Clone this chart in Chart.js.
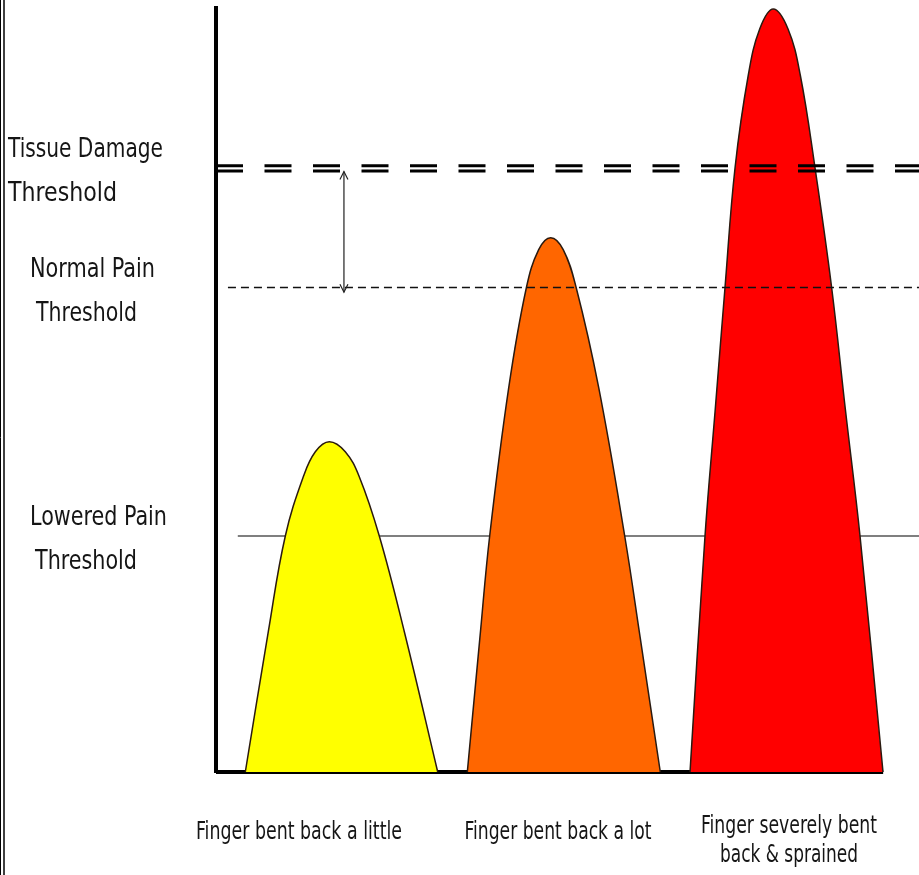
<!DOCTYPE html>
<html>
<head>
<meta charset="utf-8">
<script src="https://cdn.jsdelivr.net/npm/chart.js@4.4.0/dist/chart.umd.min.js"></script>
<style>
  html, body { margin: 0; padding: 0; background: #fff; }
  #wrap { width: 919px; height: 875px; position: relative; }
</style>
</head>
<body>
<div id="wrap"><canvas id="painChart"></canvas></div>
<script>
// categories shown under the peaks
const categories = ['Finger bent back a little', 'Finger bent back a lot', ['Finger severely bent', 'back & sprained']];

// peak outlines (x: position 0-100, y: pain signal 0-100)
const littleX = [4.17, 7.44, 9.86, 12.42, 14.13, 16.12, 18.39, 20.38, 23.23, 26.79, 31.54];
const littleY = [0, 18.36, 30.89, 38.65, 41.92, 43.23, 41.92, 38.65, 30.89, 18.36, 0];
const lotX = [35.75, 37.54, 38.93, 41.64, 44.14, 45.90, 47.61, 49.39, 51.25, 54.44, 58.14, 60.34, 63.20];
const lotY = [0, 17.58, 30.89, 50.30, 63.35, 68.37, 69.94, 68.37, 63.35, 50.30, 30.89, 17.58, 0];
const severeX = [67.43, 69.56, 71.02, 72.40, 73.83, 75.72, 77.34, 79.27, 81.37, 83.11, 85.21, 87.58, 89.52, 91.61, 94.88];
const severeY = [0, 30.89, 47.51, 63.35, 79.06, 91.23, 97.25, 99.87, 97.25, 91.23, 79.06, 63.35, 47.51, 30.89, 0];

// thresholds
const thresholdNames = [['Tissue Damage', 'Threshold'], ['Normal Pain', 'Threshold'], ['Lowered Pain', 'Threshold']];
const thresholdValues = [79.0, 63.4, 30.9];
const thresholdStart = [0, 1.7, 3.1];

// gap arrow between tissue damage and normal pain threshold
const arrowX = [18.2, 18.2];
const arrowY = [78.6, 62.8];

// baseline under the peaks
const baseX = [0, 94.9];
const baseY = [0, 0];

const FONT = "'Liberation Sans Narrow', 'DejaVu Sans Condensed', 'Liberation Sans', sans-serif";

function pts(xs, ys) {
    return xs.map((x, i) => ({ x: x, y: ys[i] }));
}

// label layout in pixels
const leftLabelX = [[8, 8], [30, 36], [30, 35]];
const leftLabelW = [[155, 109], [125, 101], [137, 102]];
const bottomLabels = [
    { cx: 299, y: [839], w: [206] },
    { cx: 558, y: [839], w: [187] },
    { cx: 789, y: [833, 862], w: [176, 138] }
];

const framePlugin = {
    id: 'frame',
    beforeDraw(chart) {
        const ctx = chart.ctx;
        ctx.save();
        ctx.fillStyle = '#fff';
        ctx.fillRect(0, 0, chart.width, chart.height);
        ctx.strokeStyle = '#000';
        ctx.lineWidth = 1;
        ctx.beginPath();
        ctx.moveTo(0.5, 0); ctx.lineTo(0.5, chart.height);
        ctx.stroke();
        ctx.lineWidth = 1.5;
        ctx.beginPath();
        ctx.moveTo(4, 0); ctx.lineTo(4, chart.height);
        ctx.stroke();
        ctx.restore();
    }
};

const doubleLinePlugin = {
    id: 'doubleLine',
    beforeDatasetDraw(chart, args) {
        if (!chart.data.datasets[args.index].doubleLine) return;
        chart.ctx.save();
        chart.ctx.translate(0, -2.6);
    },
    afterDatasetDraw(chart, args) {
        if (!chart.data.datasets[args.index].doubleLine) return;
        const ctx = chart.ctx;
        ctx.translate(0, 5.2);
        args.meta.dataset.draw(ctx, chart.chartArea);
        ctx.restore();
    }
};

const arrowPlugin = {
    id: 'arrowHeads',
    afterDatasetDraw(chart, args) {
        if (!chart.data.datasets[args.index].arrow) return;
        const p = args.meta.data;
        const ctx = chart.ctx;
        const head = (tip, from) => {
            const dx = tip.x - from.x, dy = tip.y - from.y;
            const len = Math.sqrt(dx * dx + dy * dy);
            const ux = dx / len, uy = dy / len;
            ctx.beginPath();
            ctx.moveTo(tip.x - ux * 8 - uy * 4, tip.y - uy * 8 + ux * 4);
            ctx.lineTo(tip.x, tip.y);
            ctx.lineTo(tip.x - ux * 8 + uy * 4, tip.y - uy * 8 - ux * 4);
            ctx.stroke();
        };
        ctx.save();
        ctx.strokeStyle = '#222';
        ctx.lineWidth = 1.2;
        head(p[0], p[1]);
        head(p[1], p[0]);
        ctx.restore();
    }
};

const labelPlugin = {
    id: 'labels',
    afterDraw(chart) {
        const ctx = chart.ctx;
        const yScale = chart.scales.y;
        ctx.save();
        ctx.fillStyle = '#151515';
        ctx.textBaseline = 'alphabetic';
        ctx.font = '27px ' + FONT;
        ctx.textAlign = 'left';
        thresholdNames.forEach((lines, i) => {
            const yp = yScale.getPixelForValue(thresholdValues[i]);
            ctx.fillText(lines[0], leftLabelX[i][0], yp - 11, leftLabelW[i][0]);
            ctx.fillText(lines[1], leftLabelX[i][1], yp + 33, leftLabelW[i][1]);
        });
        ctx.font = '24px ' + FONT;
        ctx.textAlign = 'center';
        categories.forEach((cat, i) => {
            const lines = Array.isArray(cat) ? cat : [cat];
            const lay = bottomLabels[i];
            lines.forEach((t, j) => ctx.fillText(t, lay.cx, lay.y[j], lay.w[j]));
        });
        ctx.restore();
    }
};

const peakStyle = {
    type: 'line',
    fill: 'origin',
    borderColor: '#2a1a10',
    borderWidth: 1.5,
    pointRadius: 0,
    tension: 0.4,
    clip: false,
    order: 3
};

const ctx = document.getElementById('painChart').getContext('2d');
const painChart = new Chart(ctx, {
    type: 'line',
    data: {
        datasets: [
            {
                label: 'gap',
                data: pts(arrowX, arrowY),
                borderColor: '#222',
                borderWidth: 1.2,
                pointRadius: 0,
                clip: false,
                arrow: true,
                order: 0
            },
            {
                label: thresholdNames[0].join(' '),
                data: pts([thresholdStart[0], 100], [thresholdValues[0], thresholdValues[0]]),
                borderColor: '#000',
                borderWidth: 3,
                borderDash: [27, 21.5],
                pointRadius: 0,
                clip: false,
                doubleLine: true,
                order: 1
            },
            {
                label: thresholdNames[1].join(' '),
                data: pts([thresholdStart[1], 100], [thresholdValues[1], thresholdValues[1]]),
                borderColor: '#111',
                borderWidth: 1.5,
                borderDash: [8, 5],
                pointRadius: 0,
                clip: false,
                order: 2
            },
            Object.assign({}, peakStyle, { label: categories[0], data: pts(littleX, littleY), backgroundColor: '#ffff00' }),
            Object.assign({}, peakStyle, { label: categories[1], data: pts(lotX, lotY), backgroundColor: '#ff6600' }),
            Object.assign({}, peakStyle, { label: categories[2].join(' '), data: pts(severeX, severeY), backgroundColor: '#ff0000' }),
            {
                label: thresholdNames[2].join(' '),
                data: pts([thresholdStart[2], 100], [thresholdValues[2], thresholdValues[2]]),
                borderColor: '#555',
                borderWidth: 1.5,
                pointRadius: 0,
                clip: false,
                order: 4
            },
            {
                label: 'baseline',
                data: pts(baseX, baseY),
                borderColor: '#000',
                borderWidth: 4,
                pointRadius: 0,
                clip: false,
                order: 5
            }
        ]
    },
    options: {
        responsive: true,
        maintainAspectRatio: false,
        animation: false,
        layout: {
            padding: { left: 216, top: 8, right: 0, bottom: 103 }
        },
        scales: {
            x: {
                type: 'linear',
                min: 0,
                max: 100,
                display: false
            },
            y: {
                min: 0,
                max: 100,
                grid: { display: false, drawTicks: false },
                ticks: { display: false },
                border: { display: true, width: 4, color: '#000' }
            }
        },
        plugins: {
            legend: { display: false },
            tooltip: { enabled: false }
        }
    },
    plugins: [framePlugin, doubleLinePlugin, arrowPlugin, labelPlugin]
});
</script>
</body>
</html>
